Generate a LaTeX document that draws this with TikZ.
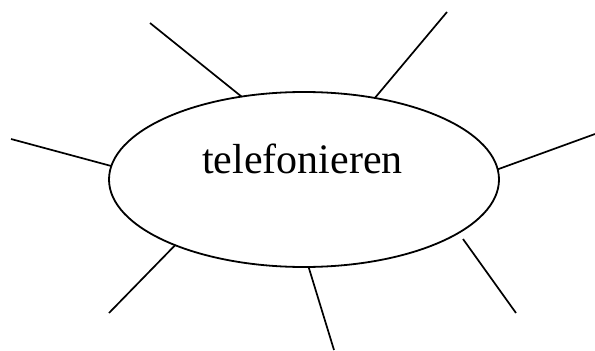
\documentclass[tikz,border=0pt]{standalone}
\usepackage{fontspec}
\setmainfont{Liberation Serif}
\usetikzlibrary{shapes.geometric}
\tikzset{
  hub/.style={draw, ellipse, line width=1.8pt, minimum width=390pt, minimum height=175pt, inner sep=0pt, outer sep=0pt},
  ray/.style={draw, line width=1.7pt},
}
\begin{document}
\begin{tikzpicture}[x=1pt, y=-1pt]
  \useasboundingbox (0,0) rectangle (595,351);
  % central ellipse
  \node[hub] (e) at (304,179.5) {};
  \node[anchor=base, font=\fontsize{42}{48}\selectfont, inner sep=0pt] (lbl) at (302.5,173.5) {telefonieren};
  % outer ends of the rays
  \coordinate (p1) at (150,23);
  \coordinate (p2) at (447,12);
  \coordinate (p3) at (11,139);
  \coordinate (p4) at (595,134);
  \coordinate (p5) at (109,313);
  \coordinate (p6) at (334,350);
  \coordinate (p7) at (516,313);
  % inner end of the lower right ray, just short of the border
  \coordinate (q7) at (463,239);
  % rays from the ellipse border
  \draw[ray] (p1) -- (e.127.2);
  \draw[ray] (p2) -- (e.49.5);
  \draw[ray] (p3) -- (e.176.0);
  \draw[ray] (p4) -- (e.3.7);
  \draw[ray] (p5) -- (e.207.9);
  \draw[ray] (p6) -- (e.273.3);
  \draw[ray] (p7) -- (q7);
\end{tikzpicture}
\end{document}
